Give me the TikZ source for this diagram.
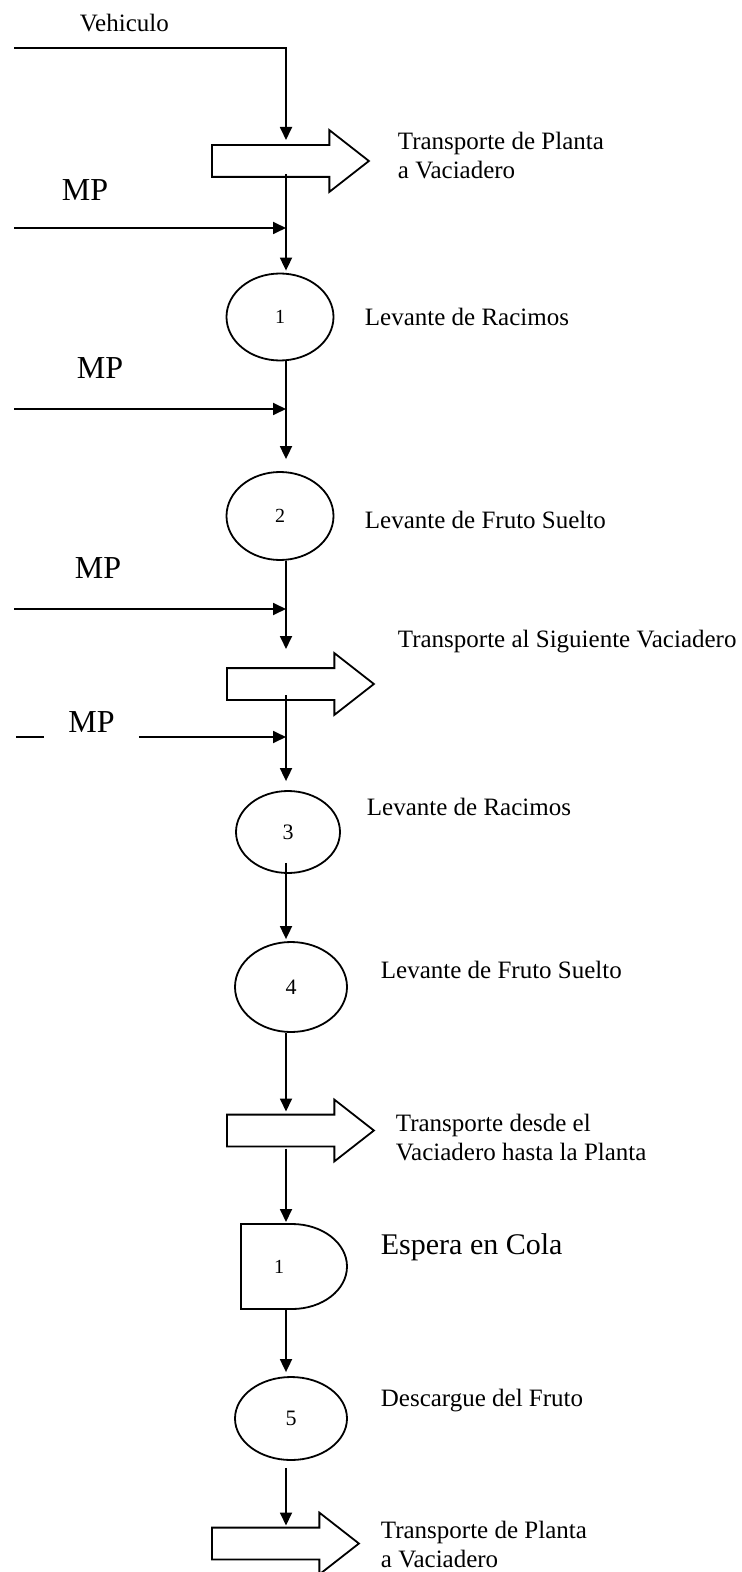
\documentclass[tikz,border=0pt]{standalone}
\usepackage{fontspec}
\setmainfont{Liberation Serif}
\usetikzlibrary{shapes.geometric,shapes.arrows,arrows.meta,calc}

\begin{document}
\begin{tikzpicture}[x=0.5pt, y=-0.5pt, line width=0.9pt,
	flow/.style={-{Triangle[length=6.5pt,width=6pt]}},
	oper/.style={ellipse, draw, inner sep=0pt, font=\fontsize{10}{11}\selectfont},
	bignum/.style={font=\fontsize{11}{12}\selectfont},
	transp/.style={single arrow, draw, inner xsep=0pt, inner ysep=7.5pt, single arrow head extend=7.5pt, single arrow tip angle=76, anchor=tail},
	txt/.style={anchor=west, inner sep=0pt, align=left, font=\fontsize{12.5}{14.5}\selectfont},
	mp/.style={inner sep=0pt, font=\fontsize{16}{18}\selectfont}]
	\useasboundingbox (0,0) rectangle (741,1572);
	\coordinate (spine) at (286,0);
	\coordinate (veh) at (14,48);
	\coordinate (mp1) at (14,228);
	\coordinate (mp2) at (14,409);
	\coordinate (mp3) at (14,609);
	\coordinate (mp4) at (16,737);

	\node[transp, minimum height=78.5pt] (tr1) at (211,161) {};
	\node[oper, minimum width=53.5pt, minimum height=43.5pt] (op1) at (280,317) {1};
	\node[oper, minimum width=53.5pt, minimum height=44pt] (op2) at (280,516) {2};
	\node[transp, minimum height=73.5pt] (tr2) at (226,684) {};
	\node[oper, bignum, minimum width=52pt, minimum height=41pt] (op3) at (288,832) {3};
	\node[oper, bignum, minimum width=56pt, minimum height=45pt] (op4) at (291,987) {4};
	\node[transp, minimum height=73.5pt] (tr3) at (226,1130.5) {};
	\node[inner sep=0pt, outer sep=0pt, minimum width=38pt, minimum height=42.5pt, font=\fontsize{10}{11}\selectfont] (esp) at (279,1266.5) {1};
	\draw (esp.north west) -- ++(51,0) .. controls +(30.4,0) and +(0,-23.5) .. ($(esp.east)+(30,0)$)
		.. controls +(0,23.5) and +(30.4,0) .. ($(esp.south west)+(51,0)$) -- (esp.south west) -- cycle;
	\node[oper, bignum, minimum width=56pt, minimum height=41.5pt] (op5) at (291,1418.5) {5};
	\node[transp, minimum height=73.5pt] (tr4) at (211,1543.5) {};

	\node[txt] (vehlbl) at (79,23) {Vehiculo};
	\node[txt] (tr1lbl) at (397,156) {Transporte de Planta\\a Vaciadero};
	\node[txt] (op1lbl) at (364,317) {Levante de Racimos};
	\node[txt] (op2lbl) at (364,520) {Levante de Fruto Suelto};
	\node[txt] (tr2lbl) at (397,642) {Transporte al Siguiente Vaciadero};
	\node[txt] (op3lbl) at (366,807) {Levante de Racimos};
	\node[txt] (op4lbl) at (380,970) {Levante de Fruto Suelto};
	\node[txt] (tr3lbl) at (395,1138) {Transporte desde el\\Vaciadero hasta la Planta};
	\node[txt, font=\fontsize{15}{17}\selectfont] (esplbl) at (380,1247) {Espera en Cola};
	\node[txt] (op5lbl) at (380,1401) {Descargue del Fruto};
	\node[txt] (tr4lbl) at (380,1544) {Transporte de Planta\\a Vaciadero};
	\node[mp] (mp1lbl) at (85,190) {MP};
	\node[mp] (mp2lbl) at (100,368) {MP};
	\node[mp] (mp3lbl) at (98,568) {MP};
	\node[mp, minimum width=46.5pt] (mp4lbl) at (91.5,722) {MP};

	\draw[flow, shorten >=3pt] (veh) -| ($(tr1.tail -| spine)+(0,-15)$);
	\draw[flow, shorten >=1pt] ($(tr1.tail -| spine)+(0,13)$) -- (op1.north -| spine);
	\draw[flow] (mp1) -- (mp1 -| spine);
	\draw[flow, shorten >=6pt] (op1.south -| spine) -- (op2.north -| spine);
	\draw[flow] (mp2) -- (mp2 -| spine);
	\draw[flow, shorten >=10pt] (op2.south -| spine) -- ($(tr2.tail -| spine)+(0,-15)$);
	\draw[flow] (mp3) -- (mp3 -| spine);
	\draw[flow, shorten >=4.5pt] ($(tr2.tail -| spine)+(0,11)$) -- (op3.north -| spine);
	\draw (mp4) -- (mp4 -| mp4lbl.west);
	\draw[flow] (mp4 -| mp4lbl.east) -- (mp4 -| spine);
	\draw[flow, shorten >=1pt] ($(op3.south -| spine)+(0,-11)$) -- (op4.north -| spine);
	\draw[flow, shorten >=2pt] (op4.south -| spine) -- ($(tr3.tail -| spine)+(0,-15)$);
	\draw[flow, shorten >=1pt] ($(tr3.tail -| spine)+(0,18)$) -- (esp.north -| spine);
	\draw[flow, shorten >=2pt] (esp.south -| spine) -- (op5.north -| spine);
	\draw[flow, shorten >=1.5pt] ($(op5.south -| spine)+(0,7)$) -- ($(tr4.tail -| spine)+(0,-15)$);
\end{tikzpicture}
\end{document}
